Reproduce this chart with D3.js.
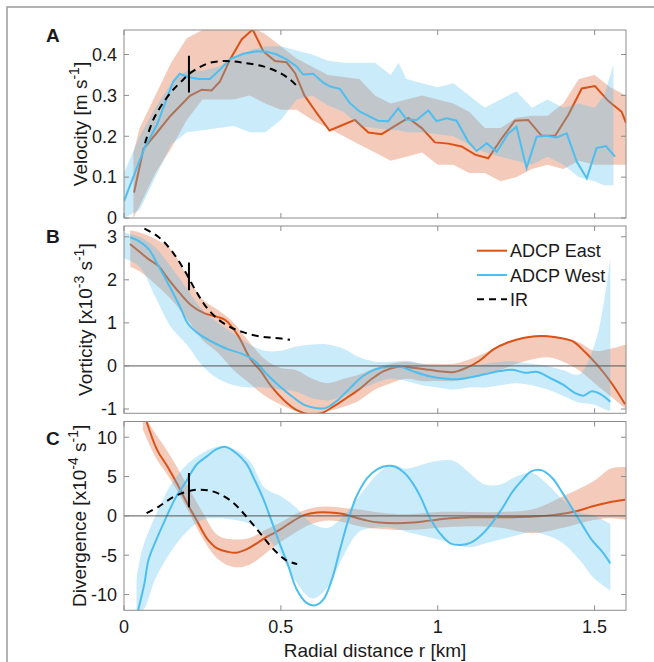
<!DOCTYPE html>
<html><head><meta charset="utf-8">
<script src="https://cdn.jsdelivr.net/npm/d3@7"></script>
<style>
body{margin:0;background:#fff}
text{font-family:"Liberation Sans",Arial,Helvetica,sans-serif;fill:#1a1a1a}
</style>
</head><body>
<svg id="c" width="654" height="662"></svg>
<script>
// ---------------- DATA ----------------
const xTicks = [0, 0.5, 1, 1.5];
const xTickLabels = ["0", "0.5", "1", "1.5"];

// Panel A: velocity [m/s]
const velEastR = [0.032,0.062,0.104,0.147,0.21,0.248,0.279,0.306,0.338,0.375,0.41,0.444,0.481,0.518,0.545,0.575,0.614,0.655,0.695,0.736,0.779,0.821,0.869,0.906,0.949,0.991,1.034,1.076,1.119,1.161,1.204,1.246,1.288,1.331,1.374,1.416,1.459,1.501,1.544,1.586,1.6];
const velEast  = [0.062,0.169,0.208,0.249,0.299,0.314,0.312,0.334,0.388,0.437,0.461,0.408,0.384,0.381,0.355,0.300,0.257,0.214,0.227,0.240,0.209,0.205,0.228,0.245,0.220,0.185,0.182,0.175,0.155,0.146,0.195,0.238,0.240,0.201,0.201,0.252,0.317,0.323,0.286,0.260,0.233];
const velWestR = [0,0.032,0.065,0.105,0.157,0.178,0.205,0.237,0.274,0.306,0.338,0.38,0.423,0.455,0.487,0.518,0.55,0.571,0.603,0.635,0.66,0.688,0.72,0.752,0.779,0.81,0.842,0.874,0.901,0.933,0.97,0.996,1.028,1.06,1.097,1.124,1.156,1.188,1.225,1.251,1.283,1.315,1.347,1.379,1.411,1.443,1.475,1.506,1.536,1.565];
const velWest  = [0.041,0.105,0.171,0.228,0.334,0.353,0.345,0.340,0.340,0.363,0.389,0.402,0.408,0.407,0.400,0.388,0.371,0.351,0.353,0.331,0.321,0.316,0.281,0.260,0.250,0.238,0.237,0.268,0.241,0.240,0.263,0.237,0.244,0.238,0.187,0.164,0.183,0.162,0.207,0.223,0.122,0.199,0.201,0.197,0.207,0.138,0.097,0.171,0.176,0.150];
const velIRR = [0.067,0.093,0.125,0.157,0.189,0.205,0.237,0.274,0.327,0.38,0.444,0.497,0.529,0.55];
const velIR  = [0.183,0.240,0.282,0.314,0.339,0.351,0.367,0.380,0.384,0.380,0.371,0.355,0.339,0.324];
const velMark = [0.307, 0.397];
const velEastBandR = [0.03,0.05,0.10,0.15,0.20,0.25,0.30,0.35,0.40,0.45,0.50,0.55,0.60,0.65,0.70,0.75,0.80,0.85,0.90,0.95,1.00,1.05,1.10,1.15,1.20,1.25,1.30,1.35,1.40,1.45,1.50,1.55,1.60];
const velEastLo = [0.00,0.03,0.11,0.17,0.24,0.29,0.29,0.29,0.30,0.28,0.265,0.265,0.24,0.22,0.20,0.18,0.16,0.14,0.15,0.16,0.13,0.13,0.11,0.11,0.09,0.10,0.12,0.13,0.12,0.14,0.13,0.13,0.13];
const velEastHi = [0.16,0.22,0.30,0.38,0.44,0.46,0.46,0.46,0.47,0.45,0.42,0.39,0.37,0.35,0.345,0.34,0.30,0.28,0.29,0.30,0.29,0.28,0.26,0.22,0.22,0.245,0.25,0.25,0.28,0.34,0.35,0.32,0.30];
const velWestBandR = [0.00,0.05,0.10,0.15,0.20,0.25,0.30,0.35,0.40,0.45,0.50,0.55,0.60,0.65,0.70,0.75,0.80,0.85,0.875,0.90,0.95,1.00,1.05,1.10,1.15,1.20,1.25,1.30,1.35,1.40,1.45,1.50,1.53,1.56];
const velWestLo = [0.00,0.02,0.10,0.18,0.21,0.215,0.22,0.225,0.21,0.21,0.24,0.29,0.30,0.275,0.26,0.225,0.22,0.215,0.215,0.21,0.21,0.205,0.20,0.18,0.16,0.15,0.14,0.13,0.15,0.13,0.10,0.09,0.08,0.08];
const velWestHi = [0.11,0.20,0.27,0.33,0.36,0.36,0.37,0.39,0.41,0.42,0.42,0.41,0.40,0.385,0.38,0.38,0.38,0.35,0.38,0.34,0.33,0.32,0.33,0.30,0.27,0.29,0.31,0.27,0.29,0.27,0.28,0.27,0.30,0.375];

// Panel B: vorticity [x10^-3 s^-1]
const vorEastR = [0.019,0.058,0.078,0.11,0.138,0.178,0.217,0.257,0.297,0.324,0.363,0.403,0.436,0.469,0.509,0.549,0.589,0.629,0.668,0.708,0.748,0.788,0.828,0.874,0.92,0.973,1.013,1.053,1.093,1.133,1.179,1.225,1.272,1.312,1.351,1.391,1.431,1.471,1.511,1.557,1.597];
const vorEast  = [2.83,2.60,2.48,2.32,2.05,1.69,1.39,1.22,1.14,1.06,0.71,0.16,-0.12,-0.47,-0.79,-1.02,-1.12,-1.10,-0.94,-0.75,-0.55,-0.31,-0.12,-0.02,-0.04,-0.09,-0.13,-0.14,-0.04,0.12,0.39,0.55,0.65,0.69,0.69,0.65,0.57,0.31,0.00,-0.43,-0.89];
const vorWestR = [0.019,0.045,0.078,0.11,0.145,0.178,0.204,0.237,0.284,0.33,0.377,0.416,0.456,0.496,0.536,0.576,0.615,0.642,0.682,0.721,0.761,0.801,0.841,0.881,0.92,0.973,1.027,1.066,1.106,1.146,1.199,1.239,1.279,1.318,1.358,1.398,1.438,1.464,1.491,1.517,1.55];
const vorWest  = [2.99,2.91,2.72,2.32,1.85,1.38,0.98,0.75,0.55,0.39,0.28,0.12,-0.20,-0.47,-0.71,-0.91,-0.98,-0.98,-0.79,-0.51,-0.24,-0.08,-0.02,-0.02,-0.12,-0.24,-0.30,-0.31,-0.26,-0.20,-0.12,-0.09,-0.16,-0.14,-0.28,-0.43,-0.63,-0.69,-0.59,-0.65,-0.83];
const vorIRR = [0.065,0.111,0.151,0.191,0.224,0.257,0.297,0.337,0.377,0.43,0.483,0.529];
const vorIR  = [3.19,2.99,2.68,2.24,1.81,1.42,1.10,0.91,0.79,0.69,0.65,0.61];
const vorMark = [1.76, 2.40];
const vorEastBandR = [0.02,0.05,0.10,0.15,0.20,0.25,0.30,0.35,0.40,0.45,0.50,0.55,0.60,0.65,0.70,0.75,0.80,0.85,0.90,0.95,1.00,1.05,1.10,1.15,1.20,1.25,1.30,1.35,1.40,1.45,1.50,1.55,1.60];
const vorEastLo = [2.30,2.20,1.90,1.55,1.10,0.60,0.30,-0.10,-0.40,-0.70,-0.90,-1.05,-1.10,-1.05,-0.95,-0.80,-0.55,-0.40,-0.30,-0.35,-0.35,-0.35,-0.30,-0.20,-0.10,0.05,0.15,0.20,0.10,-0.10,-0.40,-0.70,-1.00];
const vorEastHi = [3.15,3.10,2.95,2.70,2.10,1.55,1.30,1.00,0.55,0.15,-0.05,-0.10,-0.30,-0.40,-0.30,-0.20,-0.05,0.05,0.10,0.05,0.05,0.05,0.15,0.30,0.50,0.62,0.70,0.70,0.65,0.55,0.35,0.40,0.50];
const vorWestBandR = [0.00,0.05,0.10,0.15,0.20,0.25,0.30,0.35,0.40,0.45,0.50,0.55,0.60,0.65,0.70,0.75,0.80,0.85,0.90,0.95,1.00,1.05,1.10,1.15,1.20,1.25,1.30,1.35,1.40,1.45,1.50,1.53,1.55];
const vorWestLo = [2.50,2.30,1.60,0.90,0.50,0.00,-0.30,-0.45,-0.50,-0.50,-0.55,-0.60,-0.75,-0.80,-0.70,-0.55,-0.40,-0.30,-0.35,-0.45,-0.50,-0.55,-0.50,-0.50,-0.45,-0.40,-0.45,-0.55,-0.70,-0.85,-0.90,-1.00,-1.05];
const vorWestHi = [3.10,3.00,2.75,2.30,1.80,1.30,1.00,0.75,0.50,0.35,0.35,0.45,0.50,0.50,0.40,0.20,0.10,0.10,0.12,0.05,0.00,0.00,0.00,0.05,0.10,0.10,0.05,0.00,-0.10,-0.20,0.50,1.50,2.50];

// Panel C: divergence [x10^-4 s^-1]
const divEastR = [0.072,0.105,0.138,0.171,0.204,0.231,0.264,0.297,0.33,0.357,0.39,0.423,0.456,0.496,0.536,0.576,0.615,0.655,0.695,0.735,0.775,0.814,0.867,0.92,0.973,1.04,1.106,1.172,1.239,1.305,1.371,1.438,1.491,1.544,1.597];
const divEast  = [12.0,8.43,6.30,3.96,1.40,-0.51,-2.85,-4.13,-4.55,-4.68,-4.26,-3.49,-2.64,-1.79,-0.72,0.13,0.43,0.43,0.26,-0.17,-0.60,-0.85,-0.94,-0.85,-0.60,-0.30,-0.17,-0.17,-0.17,-0.09,0.13,0.55,1.19,1.70,2.04];
const divWestR = [0.045,0.065,0.078,0.098,0.131,0.164,0.198,0.231,0.264,0.297,0.324,0.357,0.39,0.416,0.443,0.469,0.496,0.523,0.549,0.582,0.609,0.635,0.662,0.688,0.715,0.741,0.775,0.808,0.841,0.867,0.894,0.92,0.947,0.973,1.007,1.04,1.073,1.106,1.139,1.172,1.206,1.239,1.272,1.298,1.332,1.365,1.398,1.431,1.464,1.491,1.524,1.55];
const divWest  = [-12.0,-8.6,-5.6,-3.5,-0.5,2.26,4.38,6.50,7.57,8.51,8.77,8.00,6.64,4.60,2.26,-0.51,-3.49,-6.26,-9.23,-11.06,-11.36,-10.64,-8.17,-4.34,-0.51,2.47,4.81,5.96,6.38,6.21,5.45,4.17,2.26,-0.09,-2.21,-3.49,-3.70,-3.40,-2.43,-0.94,0.98,3.11,4.68,5.66,5.79,4.81,2.89,0.77,-1.36,-3.06,-4.55,-6.04];
const divIRR = [0.072,0.111,0.151,0.191,0.231,0.271,0.31,0.35,0.39,0.43,0.469,0.516,0.552];
const divIR  = [0.34,1.19,2.26,2.98,3.32,3.23,2.68,1.62,-0.09,-2.00,-3.91,-5.62,-6.13];
const divMark = [1.10, 5.45];
const divEastBandR = [0.06,0.10,0.15,0.20,0.25,0.30,0.35,0.40,0.45,0.50,0.55,0.60,0.65,0.70,0.75,0.80,0.90,1.00,1.10,1.20,1.30,1.40,1.50,1.55,1.60];
const divEastLo = [11.0,7.5,4.5,1.0,-2.8,-5.5,-6.5,-6.2,-4.8,-3.3,-2.0,-1.0,-0.6,-0.8,-1.3,-1.6,-1.8,-1.5,-1.3,-1.5,-2.2,-1.5,-0.5,-0.3,-0.5];
const divEastHi = [13.0,10.5,7.5,4.0,0.5,-2.5,-3.0,-2.8,-1.8,-0.8,0.3,1.0,1.2,1.0,0.8,0.5,0.2,0.5,0.5,0.5,0.8,2.5,4.5,6.0,6.2];
const divWestBandR = [0.04,0.06,0.10,0.15,0.20,0.25,0.30,0.35,0.40,0.45,0.50,0.55,0.60,0.65,0.70,0.75,0.80,0.85,0.90,0.95,1.00,1.05,1.10,1.15,1.20,1.25,1.30,1.35,1.40,1.45,1.50,1.55];
const divWestLo = [-12,-12,-8.0,-4.5,-2.0,-0.5,-0.3,-0.5,-1.0,-2.5,-5.0,-8.5,-10.5,-9.0,-5.0,-2.0,-1.5,-1.5,-2.0,-2.5,-3.0,-3.5,-4.0,-3.5,-3.0,-2.5,-2.0,-2.5,-3.5,-5.5,-8.0,-9.5];
const divWestHi = [-8.0,-4.0,0.0,4.0,6.5,8.0,8.8,8.5,7.0,3.5,2.5,1.0,-1.0,-1.5,0.0,2.5,5.0,6.5,6.0,6.5,7.0,7.0,5.5,4.0,4.0,5.0,5.5,4.0,2.0,0.5,0.0,-1.0];

const legendLabels = ["ADCP East", "ADCP West", "IR"];

// ---------------- DRAW ----------------
const colEast = "#D95319", colWest = "#4DBEEE", axCol = "#8c8c8c";
const svg = d3.select("#c");
svg.append("rect").attr("x", 7).attr("y", 7).attr("width", 700).attr("height", 700)
  .attr("fill", "none").attr("stroke", "#9a9a9a").attr("stroke-width", 1.5);

const x = d3.scaleLinear().domain([0, 1.6]).range([124, 626]);
const zip = (r, v) => r.map((d, i) => ({r: d, v: v[i]}));
const zipBand = (r, lo, hi) => r.map((d, i) => ({r: d, lo: lo[i], hi: hi[i]}));

const panels = [
  {id: "A", top: 30, bottom: 218, dom: [0, 0.46], ticks: [0, 0.1, 0.2, 0.3, 0.4], fmt: d => d === 0 ? "0" : d.toFixed(1),
   eR: velEastR, e: velEast, wR: velWestR, w: velWest, iR: velIRR, i: velIR, mark: velMark,
   ebR: velEastBandR, ebLo: velEastLo, ebHi: velEastHi, wbR: velWestBandR, wbLo: velWestLo, wbHi: velWestHi,
   curve: d3.curveLinear, zero: false, labX: 87, letterY: 42,
   label: [["Velocity [m s", 0], ["-1", 1], ["]", 0]]},
  {id: "B", top: 226, bottom: 413.3, dom: [-1.1, 3.25], ticks: [-1, 0, 1, 2, 3], fmt: d => String(d),
   eR: vorEastR, e: vorEast, wR: vorWestR, w: vorWest, iR: vorIRR, i: vorIR, mark: vorMark,
   ebR: vorEastBandR, ebLo: vorEastLo, ebHi: vorEastHi, wbR: vorWestBandR, wbLo: vorWestLo, wbHi: vorWestHi,
   curve: d3.curveCatmullRom, zero: true, labX: 92, letterY: 243, legend: true,
   label: [["Vorticity [x10", 0], ["-3", 1], [" s", 0], ["-1", 1], ["]", 0]]},
  {id: "C", top: 421.5, bottom: 610.3, dom: [-12, 12], ticks: [-10, -5, 0, 5, 10], fmt: d => String(d),
   eR: divEastR, e: divEast, wR: divWestR, w: divWest, iR: divIRR, i: divIR, mark: divMark,
   ebR: divEastBandR, ebLo: divEastLo, ebHi: divEastHi, wbR: divWestBandR, wbLo: divWestLo, wbHi: divWestHi,
   curve: d3.curveCatmullRom, zero: true, labX: 86, letterY: 445, xlabels: true,
   label: [["Divergence [x10", 0], ["-4", 1], [" s", 0], ["-1", 1], ["]", 0]]}
];

panels.forEach((p) => {
  const y = d3.scaleLinear().domain(p.dom).range([p.bottom, p.top]);
  const g = svg.append("g");
  const cid = "clip" + p.id;
  svg.append("clipPath").attr("id", cid).append("rect")
    .attr("x", x(0)).attr("y", p.top).attr("width", x(1.6) - x(0)).attr("height", p.bottom - p.top);
  const pg = g.append("g").attr("clip-path", `url(#${cid})`);
  const area = d3.area().x(d => x(d.r)).y0(d => y(d.lo)).y1(d => y(d.hi)).curve(p.curve);
  const line = d3.line().x(d => x(d.r)).y(d => y(d.v)).curve(p.curve);

  pg.append("path").attr("d", area(zipBand(p.ebR, p.ebLo, p.ebHi)))
    .attr("fill", colEast).attr("fill-opacity", 0.3);
  pg.append("path").attr("d", line(zip(p.eR, p.e)))
    .attr("fill", "none").attr("stroke", colEast).attr("stroke-width", 2);
  pg.append("path").attr("d", area(zipBand(p.wbR, p.wbLo, p.wbHi)))
    .attr("fill", colWest).attr("fill-opacity", 0.3);
  pg.append("path").attr("d", line(zip(p.wR, p.w)))
    .attr("fill", "none").attr("stroke", colWest).attr("stroke-width", 2);
  if (p.zero) {
    pg.append("line").attr("x1", x(0)).attr("x2", x(1.6)).attr("y1", y(0)).attr("y2", y(0))
      .attr("stroke", "#555").attr("stroke-width", 1);
  }
  pg.append("path").attr("d", d3.line().x(d => x(d.r)).y(d => y(d.v)).curve(d3.curveCatmullRom)(zip(p.iR, p.i)))
    .attr("fill", "none").attr("stroke", "#000").attr("stroke-width", 2).attr("stroke-dasharray", "7,5");
  pg.append("line").attr("x1", x(0.207)).attr("x2", x(0.207)).attr("y1", y(p.mark[0])).attr("y2", y(p.mark[1]))
    .attr("stroke", "#000").attr("stroke-width", 2);

  // axes box
  g.append("rect").attr("x", x(0)).attr("y", p.top).attr("width", x(1.6) - x(0)).attr("height", p.bottom - p.top)
    .attr("fill", "none").attr("stroke", axCol).attr("stroke-width", 1);
  const tl = 5;
  xTicks.forEach(t => {
    g.append("line").attr("x1", x(t)).attr("x2", x(t)).attr("y1", p.bottom).attr("y2", p.bottom - tl).attr("stroke", axCol);
    g.append("line").attr("x1", x(t)).attr("x2", x(t)).attr("y1", p.top).attr("y2", p.top + tl).attr("stroke", axCol);
  });
  p.ticks.forEach(t => {
    g.append("line").attr("x1", x(0)).attr("x2", x(0) + tl).attr("y1", y(t)).attr("y2", y(t)).attr("stroke", axCol);
    g.append("line").attr("x1", x(1.6)).attr("x2", x(1.6) - tl).attr("y1", y(t)).attr("y2", y(t)).attr("stroke", axCol);
    g.append("text").attr("x", 117).attr("y", y(t) + 6.3).attr("text-anchor", "end")
      .attr("font-size", 18).text(p.fmt(t));
  });
  if (p.xlabels) {
    xTicks.forEach((t, i) => {
      g.append("text").attr("x", x(t)).attr("y", 633).attr("text-anchor", "middle")
        .attr("font-size", 18).text(xTickLabels[i]);
    });
    g.append("text").attr("x", x(0.8)).attr("y", 656.5).attr("text-anchor", "middle")
      .attr("font-size", 19).text("Radial distance r [km]");
  }
  // y label
  const cy = (p.top + p.bottom) / 2;
  const lt = g.append("text").attr("transform", `translate(${p.labX},${cy}) rotate(-90)`)
    .attr("text-anchor", "middle").attr("font-size", 19);
  let prevSup = 0;
  p.label.forEach(([s, sup]) => {
    const ts = lt.append("tspan").text(s);
    if (sup && !prevSup) ts.attr("dy", -8).attr("font-size", 14);
    else if (sup) ts.attr("font-size", 14);
    else if (!sup && prevSup) ts.attr("dy", 8);
    prevSup = sup;
  });
  // panel letter
  g.append("text").attr("x", 46).attr("y", p.letterY).attr("font-size", 19).attr("font-weight", "bold").text(p.id);

  if (p.legend) {
    const ly = [250.7, 275, 299.3];
    const styles = [{c: colEast, d: null}, {c: colWest, d: null}, {c: "#000", d: "7,5"}];
    ly.forEach((yy, i) => {
      const l = g.append("line").attr("x1", 477).attr("x2", 507).attr("y1", yy).attr("y2", yy)
        .attr("stroke", styles[i].c).attr("stroke-width", 2);
      if (styles[i].d) l.attr("stroke-dasharray", styles[i].d);
      g.append("text").attr("x", 510).attr("y", yy + 6.5).attr("font-size", 18).text(legendLabels[i]);
    });
  }
});
</script>
</body></html>
